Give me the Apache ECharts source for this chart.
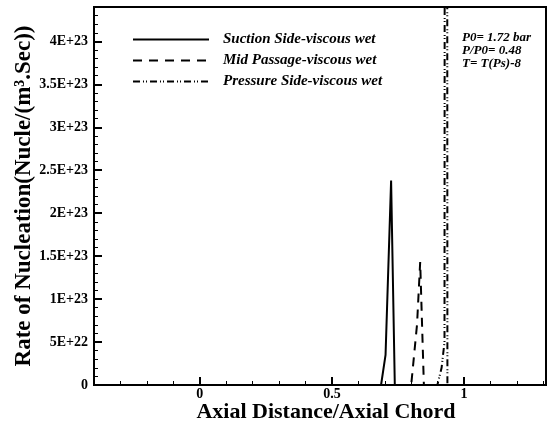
<!DOCTYPE html>
<html>
<head>
<meta charset="utf-8">
<script src="https://cdn.jsdelivr.net/npm/echarts@6/dist/echarts.min.js"></script>
<style>
html,body{margin:0;padding:0;background:#fff;}
#chart{width:552px;height:427px;}
</style>
</head>
<body>
<div id="chart"></div>
<script>
// ---- data ----
var seriesNames = ['Suction Side-viscous wet', 'Mid Passage-viscous wet', 'Pressure Side-viscous wet'];
var suctionX = [-0.4, 0.686, 0.703, 0.724, 0.738, 1.31];
var suctionY = [0, 0, 3.5e22, 2.38e23, 0, 0];
var midX = [-0.4, 0.800, 0.822, 0.834, 0.848, 1.31];
var midY = [0, 0, 7e22, 1.43e23, 0, 0];
var pressureX = [-0.4, 0.899, 0.915, 0.926, 0.932, 0.937, 1.31];
var pressureY = [0, 0, 2e22, 5e22, 4e24, 0, 0];
var xLabelValues = [0, 0.5, 1];
var xMinorValues = [-0.3, -0.2, -0.1, 0.1, 0.2, 0.3, 0.4, 0.6, 0.7, 0.8, 0.9, 1.1, 1.2, 1.3];
var yLabelValues = [0, 5e22, 1e23, 1.5e23, 2e23, 2.5e23, 3e23, 3.5e23, 4e23];
var yLabelTexts = ['0', '5E+22', '1E+23', '1.5E+23', '2E+23', '2.5E+23', '3E+23', '3.5E+23', '4E+23'];
var yMinorValues = [1e22,2e22,3e22,4e22,6e22,7e22,8e22,9e22,1.1e23,1.2e23,1.3e23,1.4e23,1.6e23,1.7e23,1.8e23,1.9e23,2.1e23,2.2e23,2.3e23,2.4e23,2.6e23,2.7e23,2.8e23,2.9e23,3.1e23,3.2e23,3.3e23,3.4e23,3.6e23,3.7e23,3.8e23,3.9e23,4.1e23,4.2e23,4.3e23];
var annotation = ['P0= 1.72 bar', 'P/P0= 0.48', 'T= T(Ps)-8'];

function zip(xs, ys){ return xs.map(function(x,i){ return [x, ys[i]]; }); }

var FONT = '"Liberation Serif","Times New Roman",serif';
var chart = echarts.init(document.getElementById('chart'));
var xMin = -0.4, xMax = 1.31, yMin = 0, yMax = 4.4e23;

chart.setOption({
  animation: false,
  backgroundColor: '#fff',
  grid: { left: 94, right: 6, top: 7, bottom: 42, show: true, borderColor: '#000', borderWidth: 2,
    containLabel: false, outerBoundsMode: 'none' },
  xAxis: [
    { type: 'value', min: xMin, max: xMax,
      name: 'Axial Distance/Axial Chord', nameLocation: 'middle', nameGap: 16, nameMoveOverlap: false,
      nameTextStyle: { fontFamily: FONT, fontWeight: 'bold', fontSize: 22, color: '#000', padding: [0,0,0,12] },
      axisLine: { show: true, onZero: false, lineStyle: { color: '#000', width: 2 } },
      axisTick: { show: true, inside: true, length: 8, customValues: xLabelValues, lineStyle: { color: '#000', width: 2 } },
      axisLabel: { customValues: xLabelValues, margin: 2, fontFamily: FONT, fontWeight: 'bold', fontSize: 14, color: '#000',
        formatter: function(v){ return String(v); } },
      splitLine: { show: false } },
    { type: 'value', min: xMin, max: xMax, position: 'bottom',
      axisLine: { show: false, onZero: false },
      axisTick: { show: true, inside: true, length: 4, customValues: xMinorValues, lineStyle: { color: '#000', width: 1 } },
      axisLabel: { show: false }, splitLine: { show: false } }
  ],
  yAxis: [
    { type: 'value', min: yMin, max: yMax,
      name: 'Rate of Nucleation(Nucle/(m³.Sec))', nameLocation: 'middle', nameGap: 58, nameMoveOverlap: false,
      nameTextStyle: { fontFamily: FONT, fontWeight: 'bold', fontSize: 23, color: '#000' },
      axisLine: { show: true, onZero: false, lineStyle: { color: '#000', width: 2 } },
      axisTick: { show: true, inside: true, length: 8, customValues: yLabelValues, lineStyle: { color: '#000', width: 2 } },
      axisLabel: { customValues: yLabelValues, margin: 6, fontFamily: FONT, fontWeight: 'bold', fontSize: 14, color: '#000',
        formatter: function(v){ var i = yLabelValues.indexOf(v); return i >= 0 ? yLabelTexts[i] : ''; } },
      splitLine: { show: false } },
    { type: 'value', min: yMin, max: yMax, position: 'left',
      axisLine: { show: false, onZero: false },
      axisTick: { show: true, inside: true, length: 4, customValues: yMinorValues, lineStyle: { color: '#000', width: 1 } },
      axisLabel: { show: false }, splitLine: { show: false } }
  ],
  legend: {
    orient: 'vertical', left: 132, top: 32, padding: 0, itemWidth: 76, itemHeight: 14, itemGap: 6,
    data: seriesNames,
    itemStyle: { opacity: 0 },
    textStyle: { fontFamily: FONT, fontWeight: 'bold', fontStyle: 'italic', fontSize: 15, color: '#000', padding: [0,0,0,9] }
  },
  graphic: annotation.map(function(t, i){
    return { type: 'text', left: 462, top: 31 + i * 13,
      style: { text: t, fontFamily: FONT, fontWeight: 'bold', fontStyle: 'italic', fontSize: 13, fill: '#000' } };
  }),
  series: [
    { name: seriesNames[0], type: 'line', data: zip(suctionX, suctionY), symbol: 'none', clip: true,
      lineStyle: { color: '#000', width: 2, type: 'solid' }, itemStyle: { color: '#000' } },
    { name: seriesNames[1], type: 'line', data: zip(midX, midY), symbol: 'none', clip: true,
      lineStyle: { color: '#000', width: 2, type: [9, 7] }, itemStyle: { color: '#000' } },
    { name: seriesNames[2], type: 'line', data: zip(pressureX, pressureY), symbol: 'none', clip: true,
      lineStyle: { color: '#000', width: 2, type: [7, 3, 1, 2, 1, 3] }, itemStyle: { color: '#000' } }
  ]
});
</script>
</body>
</html>
